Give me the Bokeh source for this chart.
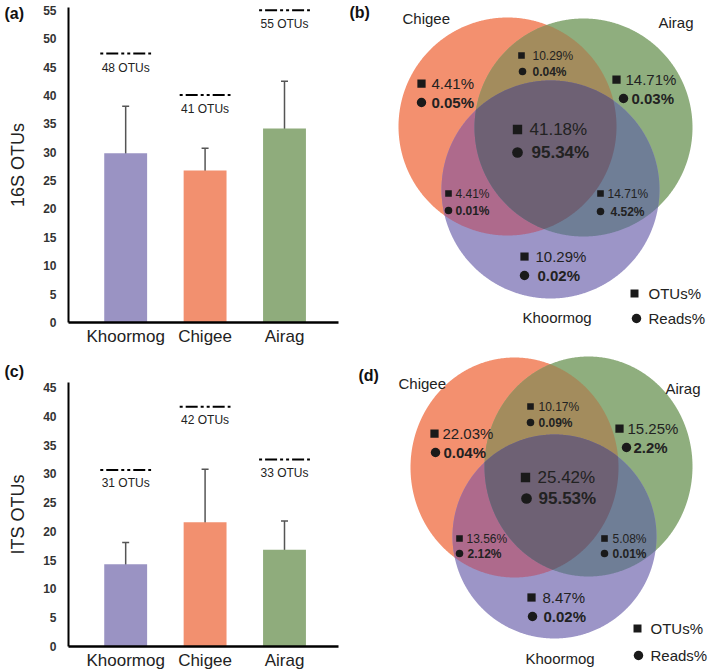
import numpy as np
from bokeh.plotting import figure
from bokeh.models import Range1d, FixedTicker, ColumnDataSource, Whisker, TeeHead, Title
from bokeh.layouts import row, column
from bokeh.embed import file_html
from bokeh.resources import INLINE
from bokeh.core.properties import value

# ---------------- data ----------------
sites = ["Khoormog", "Chigee", "Airag"]
bar_colors = ["#9A93C3", "#F2906F", "#8FAC7C"]

otus_16s_mean = [29.8, 26.8, 34.2]
otus_16s_err = [8.3, 3.9, 8.3]
otus_16s_total = [48, 41, 55]
otus_16s_line = [47.4, 40.1, 55.0]
y_ticks_16s = [0, 5, 10, 15, 20, 25, 30, 35, 40, 45, 50, 55]

otus_its_mean = [14.3, 21.6, 16.8]
otus_its_err = [3.8, 9.2, 5.0]
otus_its_total = [31, 42, 33]
otus_its_line = [30.7, 41.7, 32.5]
y_ticks_its = [0, 5, 10, 15, 20, 25, 30, 35, 40, 45]

# Venn regions: Chigee only, Chigee&Airag, Airag only, all three,
#               Chigee&Khoormog, Airag&Khoormog, Khoormog only
venn_16s_otus = [4.41, 10.29, 14.71, 41.18, 4.41, 14.71, 10.29]
venn_16s_reads = [0.05, 0.04, 0.03, 95.34, 0.01, 4.52, 0.02]
venn_its_otus = [22.03, 10.17, 15.25, 25.42, 13.56, 5.08, 8.47]
venn_its_reads = [0.04, 0.09, 2.2, 95.53, 2.12, 0.01, 0.02]
venn_sets = ["Chigee", "Airag", "Khoormog"]
legend_labels = ["OTUs%", "Reads%"]

# ---------------- style ----------------
FONT = "Liberation Sans"
TXT = "#222222"
XR = (0.28, 3.68)
FRAME_L, FRAME_R, AX_B = 68, 10, 24


def bar_panel(w, h, top, y_end, means, errs, totals, levels, ticks, ylabel,
              tag, tag_standoff, gap_px):
    x = list(range(1, len(sites) + 1))
    p = figure(width=w, height=h, x_range=Range1d(*XR), y_range=Range1d(0, y_end),
               output_backend="svg", toolbar_location=None,
               min_border_left=FRAME_L, min_border_right=FRAME_R,
               min_border_top=top, min_border_bottom=AX_B)
    p.outline_line_color = None
    frame_h = h - top - 27
    ppy = frame_h / y_end
    p.vbar(x=x, top=means, width=0.54, fill_color=bar_colors, line_color=None)
    src = ColumnDataSource(dict(base=x,
                                upper=[m + e for m, e in zip(means, errs)],
                                lower=[m - e for m, e in zip(means, errs)]))
    p.add_layout(Whisker(base="base", upper="upper", lower="lower", source=src,
                 line_color="#555555", line_width=1.5,
                 upper_head=TeeHead(size=7, line_color="#555555", line_width=1.5),
                 lower_head=TeeHead(size=7, line_color="#555555", line_width=1.5)))
    half = 0.32
    p.segment(x0=[i - half for i in x], x1=[i + half for i in x], y0=levels, y1=levels,
              line_color="black", line_width=2, line_dash="3 3 12 3 3 3")
    p.text(x=x, y=[l - gap_px / ppy for l in levels], text=[f"{t} OTUs" for t in totals],
           text_align="center", text_baseline="middle",
           text_font=value(FONT), text_font_size="12px", text_color=TXT)
    p.add_layout(Title(text=tag, align="left", offset=-64, standoff=tag_standoff,
                       text_font=FONT, text_font_size="16px", text_font_style="bold",
                       text_color="#111111"), "above")
    p.xgrid.visible = False
    p.ygrid.visible = False

    ya = p.yaxis[0]
    ya.ticker = FixedTicker(ticks=ticks)
    ya.axis_label = ylabel
    ya.axis_label_text_font = FONT
    ya.axis_label_text_font_style = "normal"
    ya.axis_label_text_font_size = "18px"
    ya.axis_label_text_color = TXT
    ya.axis_label_standoff = 12
    ya.major_label_text_font = FONT
    ya.major_label_text_font_style = "bold"
    ya.major_label_text_font_size = "12px"
    ya.major_label_text_color = "#333333"
    ya.major_label_standoff = 12
    ya.major_tick_line_color = None
    ya.minor_tick_line_color = None
    ya.major_tick_out = 0
    ya.axis_line_width = 2
    ya.axis_line_color = "black"

    xa = p.xaxis[0]
    xa.ticker = FixedTicker(ticks=x)
    xa.major_label_overrides = {i: s for i, s in zip(x, sites)}
    xa.major_label_text_font = FONT
    xa.major_label_text_font_size = "17px"
    xa.major_label_text_color = TXT
    xa.major_label_standoff = 4
    xa.major_tick_line_color = None
    xa.minor_tick_line_color = None
    xa.major_tick_out = 0
    xa.axis_label_standoff = 0
    xa.axis_line_width = 2.5
    xa.axis_line_color = "black"
    return p


def ell_pts(e, n=1000):
    cx, cy, rx, ry = e
    t = np.linspace(0, 2 * np.pi, n, endpoint=False)
    return cx + rx * np.cos(t), cy + ry * np.sin(t)


def inside(x, y, e):
    cx, cy, rx, ry = e
    return ((x - cx) / rx) ** 2 + ((y - cy) / ry) ** 2 <= 1 + 1e-9


def region(es):
    xs, ys = [], []
    for i, e in enumerate(es):
        x, y = ell_pts(e)
        m = np.ones_like(x, dtype=bool)
        for j, f in enumerate(es):
            if j != i:
                m &= inside(x, y, f)
        xs.append(x[m]); ys.append(y[m])
    x = np.concatenate(xs); y = np.concatenate(ys)
    o = np.argsort(np.arctan2(y - y.mean(), x - x.mean()))
    return x[o].tolist(), y[o].tolist()


REGION_COLORS = ["#F3906F", "#8FAE7E", "#9C95C7",   # Chigee, Airag, Khoormog
                 "#A38C5D", "#AE6A8C", "#6F7E96",   # C&A, C&K, A&K
                 "#6E6174"]                          # all three
FS = [15, 12, 15, 17, 12, 12, 15]


def venn_panel(w, h, x0, y0, ells, otus, reads, sq, ci, names_pos, legend_pos, tag, tag_pos):
    p = figure(width=w, height=h, x_range=Range1d(x0, x0 + w), y_range=Range1d(y0 + h, y0),
               output_backend="svg", toolbar_location=None,
               x_axis_location=None, y_axis_location=None,
               min_border_left=0, min_border_right=0, min_border_top=0, min_border_bottom=0)
    p.outline_line_color = None
    p.grid.visible = False
    O, G, P = ells
    combos = [[O], [G], [P], [O, G], [O, P], [G, P], [O, G, P]]
    xs, ys = [], []
    for c in combos:
        a, b = region(c)
        xs.append(a); ys.append(b)
    p.patches(xs=xs, ys=ys, fill_color=REGION_COLORS, line_color=None)

    p.scatter(x=[s[0] for s in sq], y=[s[1] for s in sq], marker="square",
              size=[0.55 * f for f in FS], color="#1a1a1a", line_color=None)
    p.scatter(x=[s[0] for s in ci], y=[s[1] for s in ci], marker="circle",
              size=[0.63 * f for f in FS], color="#1a1a1a", line_color=None)
    p.text(x=[s[2] for s in sq], y=[s[1] for s in sq], text=[f"{v}%" for v in otus],
           text_font_size=[f"{f}px" for f in FS], text_align="left", text_baseline="middle",
           text_font=value(FONT), text_color=TXT)
    p.text(x=[s[2] for s in ci], y=[s[1] for s in ci], text=[f"{v}%" for v in reads],
           text_font_size=[f"{f}px" for f in FS], text_align="left", text_baseline="middle",
           text_font=value(FONT), text_font_style="bold", text_color=TXT)

    p.text(x=[n[0] for n in names_pos], y=[n[1] for n in names_pos], text=venn_sets,
           text_font_size="15px", text_align="left", text_baseline="middle",
           text_font=value(FONT), text_color=TXT)

    (sqx, sqy), (cix, ciy), tx = legend_pos
    p.scatter(x=[sqx], y=[sqy], marker="square", size=8, color="#1a1a1a", line_color=None)
    p.scatter(x=[cix], y=[ciy], marker="circle", size=9.5, color="#1a1a1a", line_color=None)
    p.text(x=[tx, tx], y=[sqy, ciy], text=legend_labels,
           text_font_size="15px", text_align="left", text_baseline="middle",
           text_font=value(FONT), text_color=TXT)

    p.text(x=[tag_pos[0]], y=[tag_pos[1]], text=[tag], text_font_size="16px",
           text_font_style="bold", text_align="left", text_baseline="middle",
           text_font=value(FONT), text_color="#111111")
    return p


# fig A: canvas y 0..348, frame 7..321 ; fig C: canvas y 348..672, frame 382..645
pa = bar_panel(348, 348, 7, 55.5, otus_16s_mean, otus_16s_err, otus_16s_total,
               otus_16s_line, y_ticks_16s, "16S OTUs", "(a)", -28, 14)
pc = bar_panel(348, 324, 34, 45.9, otus_its_mean, otus_its_err, otus_its_total,
               otus_its_line, y_ticks_its, "ITS OTUs", "(c)", 5, 13)

b_ells = [(507, 126, 109, 109), (583, 127, 109, 109), (550, 189, 109, 109)]
b_sq = [(421, 83, 431), (521, 55, 532), (616, 79, 625), (517, 129, 529),
        (448, 193, 455), (600, 193, 607), (524, 256, 535)]
b_ci = [(421, 102, 431), (522, 71, 532), (623, 98, 631), (517, 152, 531),
        (448, 210, 455), (600, 211, 610), (524, 275, 537)]
b_names = [(402, 18), (658, 22), (522, 317)]
b_leg = ((634, 293), (636, 318), 648)

d_ells = [(514, 467, 104, 110), (588, 466, 104, 110), (554, 536, 102, 102)]
d_sq = [(434, 433, 442), (530, 406, 538), (619, 428, 627), (525, 477, 537),
        (459, 538, 466), (604, 538, 612), (531, 597, 542)]
d_ci = [(435, 452, 443), (530, 422, 538), (626, 447, 633), (526, 498, 538),
        (459, 553, 467), (604, 553, 612), (532, 616, 543)]
d_names = [(398, 383), (665, 388), (525, 658)]
d_leg = ((637, 628), (638, 655), 650)

pb = venn_panel(361, 348, 348, 0, b_ells, venn_16s_otus, venn_16s_reads, b_sq, b_ci,
                b_names, b_leg, "(b)", (349, 12))
pd = venn_panel(361, 324, 348, 348, d_ells, venn_its_otus, venn_its_reads, d_sq, d_ci,
                d_names, d_leg, "(d)", (358, 375))

layout = row(column(pa, pc), column(pb, pd))
open("out.html", "w").write(file_html(layout, INLINE))
